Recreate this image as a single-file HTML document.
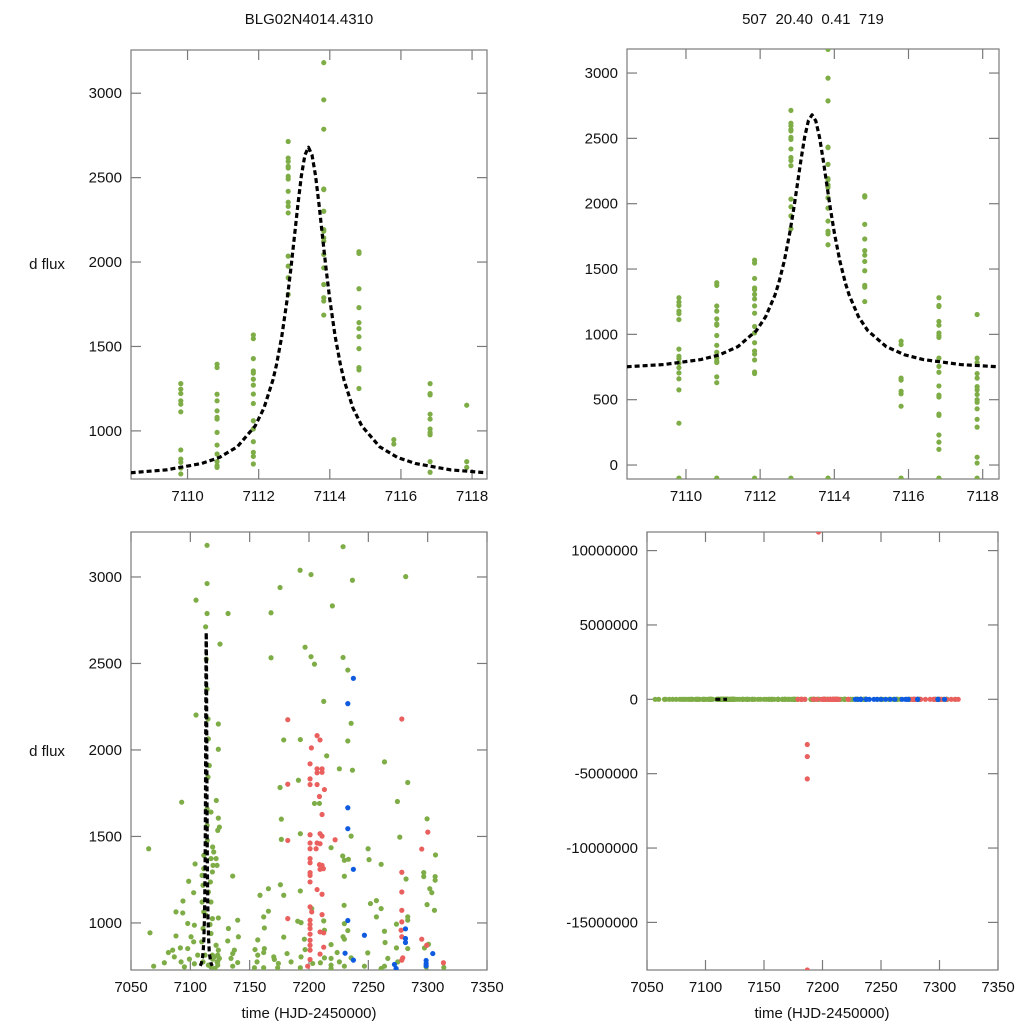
<!DOCTYPE html>
<html><head><meta charset="utf-8">
<style>
html,body{margin:0;padding:0;background:#fff;width:1024px;height:1024px;overflow:hidden;}
svg{display:block;font-family:"Liberation Sans",Arial,sans-serif;}
</style></head>
<body>
<svg id="chart" width="1024" height="1024" viewBox="0 0 1024 1024" xmlns="http://www.w3.org/2000/svg">
<rect width="1024" height="1024" fill="#fff"/>
<text x="309" y="24" text-anchor="middle" font-size="15" fill="#111">BLG02N4014.4310</text>
<text x="813" y="24" text-anchor="middle" font-size="15" fill="#111" style="white-space:pre" xml:space="preserve">507  20.40  0.41  719</text>
<text x="47" y="269" text-anchor="middle" font-size="15" fill="#111">d flux</text>
<text x="47" y="756" text-anchor="middle" font-size="15" fill="#111">d flux</text>
<text x="309" y="1018" text-anchor="middle" font-size="15" fill="#111">time (HJD-2450000)</text>
<text x="822" y="1018" text-anchor="middle" font-size="15" fill="#111">time (HJD-2450000)</text>
</svg>
<script>
// ---- data ----
const peakNightTimes = [7109.81, 7110.83, 7111.85, 7112.83, 7113.83, 7114.82, 7115.8, 7116.82, 7117.85];
const peakNightFlux = [
 [1280,1247,1221,1178,1158,1113,887,833,814,780,745,705,660,575,320,-100],
 [1395,1375,1217,1178,1119,1080,1070,991,916,863,818,794,784,675,630,-100],
 [1568,1546,1428,1355,1342,1306,1271,1218,1162,1060,1011,936,873,849,804,712,700,-100],
 [2714,2616,2596,2567,2557,2508,2492,2419,2354,2330,2291,2035,1976,1907,1808,-100],
 [3181,2961,2787,2433,2429,2301,2192,2183,2143,2124,2045,1966,1867,1789,1769,1686,-100],
 [2061,2051,1842,1730,1641,1606,1558,1487,1375,1361,1251],
 [948,922,665,650,565,545,450,-100],
 [1280,1221,1213,1099,1070,1011,991,977,818,755,710,605,535,520,390,380,230,175,120,-100],
 [1152,818,784,700,665,600,575,540,500,480,430,350,290,60,15,-100]
];
const modelTimes = [7108.4,7109.4,7110.4,7110.9,7111.4,7111.9,7112.15,7112.4,7112.5,7112.65,7112.8,7112.9,7113.0,7113.1,7113.2,7113.3,7113.4,7113.5,7113.6,7113.7,7113.8,7113.9,7114.0,7114.15,7114.3,7114.4,7114.65,7114.9,7115.4,7115.9,7116.4,7117.4,7118.4];
const modelFlux  = [752,769,807,843,906,1029,1136,1301,1391,1560,1778,1951,2141,2335,2510,2634,2680,2634,2510,2335,2141,1951,1778,1560,1391,1301,1136,1029,906,843,807,769,752];
const greenPts = [[7114.1,3183],[7228.7,3175],[7192.5,3039],[7201.7,3014],[7281.5,3002],[7236.6,2981],[7114.1,2962],[7175.6,2939],[7104.8,2866],[7219.7,2833],[7114.1,2789],[7131.8,2789],[7168.0,2793],[7112.9,2712],[7125.0,2612],[7196.7,2594],[7168.0,2533],[7201.7,2539],[7228.7,2535],[7204.6,2496],[7232.7,2462],[7212.4,2281],[7104.8,2202],[7123.6,2150],[7235.5,2154],[7178.7,2058],[7192.7,2060],[7232.7,2052],[7123.6,2004],[7214.9,1966],[7263.6,1931],[7225.6,1891],[7236.6,1883],[7191.1,1825],[7283.2,1812],[7175.6,1783],[7092.7,1698],[7121.9,1708],[7274.5,1702],[7204.6,1691],[7208.8,1691],[7123.6,1606],[7176.7,1600],[7299.5,1602],[7124.5,1554],[7123.1,1535],[7192.7,1516],[7235.5,1502],[7276.5,1496],[7176.7,1483],[7064.9,1429],[7218.6,1435],[7249.8,1429],[7306.6,1393],[7228.4,1387],[7229.8,1362],[7233.2,1368],[7250.6,1366],[7260.8,1339],[7104.0,1341],[7135.7,1271],[7229.8,1270],[7296.7,1291],[7296.7,1268],[7306.3,1268],[7306.3,1247],[7281.8,1254],[7098.6,1241],[7175.9,1221],[7165.8,1198],[7301.8,1198],[7303.5,1175],[7178.7,1160],[7158.7,1160],[7192.7,1185],[7102.8,1175],[7093.8,1127],[7251.8,1112],[7256.8,1129],[7299.5,1106],[7305.7,1073],[7229.6,1102],[7260.8,1083],[7087.9,1064],[7093.6,1058],[7165.8,1068],[7202.3,1083],[7283.2,1035],[7283.2,1016],[7123.6,1029],[7161.8,1035],[7139.9,1016],[7256.8,1035],[7097.8,997],[7190.5,1010],[7193.3,1002],[7229.8,996],[7212.4,1012],[7273.7,993],[7103.4,987],[7116.6,991],[7066.0,943],[7132.1,968],[7162.4,971],[7213.0,958],[7232.7,956],[7263.6,952],[7087.9,925],[7100.6,920],[7140.5,920],[7178.7,918],[7156.8,902],[7196.1,906],[7228.7,920],[7229.8,906],[7131.5,896],[7264.1,887],[7283.2,852],[7297.3,856],[7102.8,891],[7085.1,843],[7091.6,856],[7097.8,852],[7137.1,843],[7154.5,846],[7162.4,852],[7196.7,846],[7218.6,875],[7249.5,827],[7273.7,856],[7300.7,877],[7081.5,829],[7086.5,804],[7106.2,814],[7123.1,814],[7135.7,823],[7156.8,814],[7161.8,829],[7170.3,804],[7181.5,823],[7193.3,804],[7213.0,798],[7218.6,795],[7223.7,829],[7235.5,798],[7266.4,795],[7078.1,770],[7092.2,775],[7099.2,791],[7103.4,764],[7118.8,791],[7123.1,775],[7134.3,795],[7139.9,771],[7156.2,775],[7170.8,789],[7174.2,766],[7184.9,775],[7203.1,766],[7209.6,770],[7218.6,756],[7225.6,775],[7246.7,750],[7263.6,750],[7274.8,775],[7298.7,746],[7313.6,743],[7069.1,750],[7095.0,746],[7117.4,746],[7135.7,750],[7154.0,741],[7161.8,741],[7173.6,741],[7192.7,741],[7218.6,737],[7229.8,750],[7260.8,737],[7115.2,2064],[7114.9,1843],[7114.1,1660],[7117.4,1641],[7114.1,1564],[7118.8,1439],[7119.7,1410],[7117.4,1372],[7121.7,1372],[7122.5,1333],[7111.3,1314],[7118.6,1295],[7109.9,1275],[7116.9,1237],[7110.7,1218],[7115.2,1179],[7109.9,1121],[7117.4,1121],[7111.3,1064],[7118.6,1025],[7110.7,968],[7117.4,939],[7109.6,891],[7121.7,871],[7123.6,843],[7120.3,804],[7122.5,775],[7115.2,756],[7110.7,775],[7113.2,1045],[7112.4,814],[7118.6,814],[7124.5,795],[7123.1,756],[7120.8,737],[7111.3,1391],[7119.1,1333],[7114.3,1477],[7116.0,1910],[7114.9,2179],[7114.1,2352],[7113.5,2525],[7057,500],[7060,420],[7072,600],[7075,500],[7080,450],[7083,550],[7089,480],[7127,500],[7129,450],[7142,520],[7145,500],[7147,440],[7150,500],[7152,460],[7166,500],[7168,450],[7172,520],[7176,480],[7185,600],[7190,450],[7216,500],[7219,400],[7224,450]];
const redPts = [[7182.1,2175],[7278.2,2179],[7206.8,2083],[7209.3,2058],[7202.0,2012],[7200.9,1920],[7206.8,1891],[7211.0,1891],[7206.8,1868],[7211.0,1871],[7182.1,1802],[7200.9,1833],[7200.9,1800],[7206.8,1800],[7213.0,1771],[7208.8,1731],[7211.0,1627],[7200.9,1510],[7209.3,1516],[7211.0,1502],[7182.1,1477],[7222.0,1481],[7200.9,1462],[7206.8,1462],[7209.3,1458],[7200.9,1429],[7206.0,1429],[7295.0,1427],[7300.1,1525],[7200.9,1372],[7200.9,1348],[7208.8,1337],[7211.0,1333],[7212.1,1314],[7209.3,1310],[7200.9,1291],[7200.9,1275],[7278.2,1293],[7200.9,1237],[7206.8,1193],[7211.0,1166],[7278.2,1179],[7200.9,1093],[7202.3,1064],[7211.0,1048],[7278.2,1073],[7182.1,1025],[7200.9,1016],[7200.9,991],[7200.9,968],[7278.2,1006],[7209.3,948],[7212.4,943],[7200.9,935],[7277.6,958],[7278.2,920],[7200.9,900],[7295.0,906],[7200.9,871],[7200.9,843],[7212.4,860],[7299.2,871],[7200.9,789],[7209.3,820],[7279.0,798],[7278.2,785],[7313.3,770],[7198.9,750],[7179,500],[7185,450],[7192,520],[7195,480],[7204,500],[7214,450],[7222,520],[7276,500],[7280,420],[7284,480],[7288,450],[7292,500],[7296,420],[7302,480],[7306,450],[7310,500],[7316,460]];
const bluePts = [[7237.4,2414],[7232.7,2268],[7232.7,1666],[7232.7,1545],[7237.4,1310],[7232.7,1014],[7281.3,966],[7246.7,929],[7281.3,910],[7281.3,887],[7230.4,825],[7304.3,823],[7237.4,785],[7298.7,783],[7298.7,764],[7272.0,760],[7298.7,752],[7273.4,737],[7228,500],[7240,480],[7244,520],[7250,450],[7254,500],[7258,470],[7262,500],[7268,480],[7271,450]];
const outlierTimes = [7187,7187,7187,7187,7196.6];
const outlierFlux = [-3040000,-3850000,-5350000,-18200000,11250000];
const xTicksZoom = [7110,7112,7114,7116,7118];
const xTicksSeason = [7050,7100,7150,7200,7250,7300,7350];
const yTicksTL = [1000,1500,2000,2500,3000];
const yTicksTR = [0,500,1000,1500,2000,2500,3000];
const yTicksBL = [1000,1500,2000,2500,3000];
const yTicksBR = [-15000000,-10000000,-5000000,0,5000000,10000000];

// ---- drawing ----
const NS = 'http://www.w3.org/2000/svg';
const svg = document.getElementById('chart');
const GREEN = '#7ead47', RED = '#e9605e', BLUE = '#0f5be0';
function mk(tag, attrs, parent){ const e = document.createElementNS(NS, tag); for (const k in attrs) e.setAttribute(k, attrs[k]); (parent||svg).appendChild(e); return e; }

const panels = [
 {id:'top-left', x0:131,x1:487,y0:50,y1:479, xr:[7108.41,7118.42], yr:[715,3256], xt:xTicksZoom, yt:yTicksTL},
 {id:'top-right', x0:627,x1:999,y0:49,y1:479, xr:[7108.41,7118.44], yr:[-107,3184], xt:xTicksZoom, yt:yTicksTR},
 {id:'bottom-left', x0:131,x1:487,y0:532,y1:970, xr:[7050,7350], yr:[728,3260], xt:xTicksSeason, yt:yTicksBL},
 {id:'bottom-right', x0:647,x1:998,y0:532,y1:970, xr:[7050,7350], yr:[-18200000,11250000], xt:xTicksSeason, yt:yTicksBR}
];
panels.forEach(p => {
  p.sx = t => p.x0 + (t - p.xr[0]) / (p.xr[1] - p.xr[0]) * (p.x1 - p.x0);
  p.sy = v => p.y1 - (v - p.yr[0]) / (p.yr[1] - p.yr[0]) * (p.y1 - p.y0);
  const g = mk('g', {});
  
  
  p.g = g;
  const clip = mk('clipPath', {id:'clip-' + p.id}, g);
  mk('rect', {x:p.x0, y:p.y0, width:p.x1-p.x0, height:p.y1-p.y0}, clip);
  const frame = mk('rect', {x:p.x0, y:p.y0, width:p.x1-p.x0, height:p.y1-p.y0, fill:'none', stroke:'#7a7a7a', 'stroke-width':1.2}, g);
  
  
  p.xt.forEach(t => {
    const x = p.sx(t);
    mk('line', {x1:x, x2:x, y1:p.y1, y2:p.y1-10, stroke:'#7a7a7a', 'stroke-width':1.2}, g);
    mk('line', {x1:x, x2:x, y1:p.y0, y2:p.y0+10, stroke:'#7a7a7a', 'stroke-width':1.2}, g);
    const lb = mk('text', {x:x, y:p.y1+22, 'text-anchor':'middle', 'font-size':15, fill:'#111'}, g);
    lb.textContent = t;
    
    
  });
  p.yt.forEach(v => {
    const y = p.sy(v);
    mk('line', {x1:p.x0, x2:p.x0+10, y1:y, y2:y, stroke:'#7a7a7a', 'stroke-width':1.2}, g);
    mk('line', {x1:p.x1, x2:p.x1-10, y1:y, y2:y, stroke:'#7a7a7a', 'stroke-width':1.2}, g);
    const lb = mk('text', {x:p.x0-9, y:y+5, 'text-anchor':'end', 'font-size':15, fill:'#111'}, g);
    lb.textContent = v;
    
    
  });
  p.plot = mk('g', {'clip-path':'url(#clip-' + p.id + ')'}, g);
});

function inRange(p, t, v){
  return t >= p.xr[0] && t <= p.xr[1] && v >= p.yr[0] && v <= p.yr[1];
}
function dot(p, t, v, color, name){
  if (!inRange(p, t, v)) return;
  const c = mk('circle', {cx:p.sx(t), cy:p.sy(v), r:2.6, fill:color}, p.plot);
  
  
}
function model(p){
  const d = modelTimes.map((t,i) => (i ? 'L' : 'M') + p.sx(t).toFixed(2) + ' ' + p.sy(Math.max(modelFlux[i], p.yr[0])).toFixed(2)).join(' ');
  const path = mk('path', {d:d, fill:'none', stroke:'#000', 'stroke-width':3.2, 'stroke-dasharray':'5 3', 'stroke-linejoin':'round'}, p.plot);
  
  
}

[panels[0], panels[1]].forEach(p => {
  peakNightTimes.forEach((t, i) => {
    peakNightFlux[i].forEach(v => dot(p, t, v, GREEN, 'data-point'));
  });
  model(p);
});
[panels[2], panels[3]].forEach(p => {
  greenPts.forEach(d => dot(p, d[0], d[1], GREEN, 'data-point-green'));
  if (p.id === 'bottom-left') model(p);
  redPts.forEach(d => dot(p, d[0], d[1], RED, 'data-point-red'));
  bluePts.forEach(d => dot(p, d[0], d[1], BLUE, 'data-point-blue'));
  outlierTimes.forEach((t, i) => dot(p, t, outlierFlux[i], RED, 'outlier-point'));
  if (p.id === 'bottom-right') model(p);
});
</script>
</body></html>
